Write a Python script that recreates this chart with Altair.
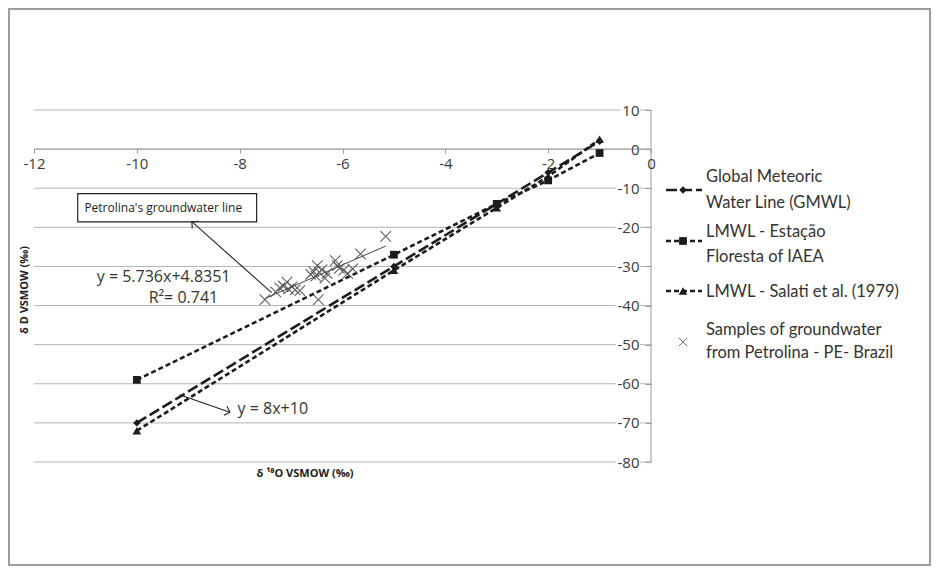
import math
import altair as alt
import pandas as pd

# ---------------- data ----------------
line_x = [-10, -5, -3, -2, -1]
gmwl_y = [-70, -30, -14, -6, 2]
floresta_y = [-59, -27, -14, -8, -1]
salati_y = [-72, -31, -15, -7, 2.5]

sample_x = [-7.51, -7.30, -7.22, -7.15, -7.08, -7.05, -6.98, -6.92, -6.83, -6.47,
            -6.62, -6.56, -6.52, -6.49, -6.45, -6.40, -6.34, -6.30, -6.14, -6.10,
            -6.06, -5.98, -5.90, -5.80, -5.65, -5.16]
sample_y = [-38.5, -36.5, -35.5, -35.0, -34.0, -35.8, -35.2, -36.0, -36.2, -38.5,
            -32.0, -31.3, -32.5, -29.8, -31.5, -30.8, -33.0, -31.8, -28.5, -29.8,
            -30.5, -31.0, -31.8, -30.6, -26.8, -22.3]

trend_x = [-7.51, -5.16]
trend_y = [-38.2, -24.8]

x_ticks = [-12, -10, -8, -6, -4, -2, 0]
y_ticks = [10, 0, -10, -20, -30, -40, -50, -60, -70, -80]

legend_labels = [["Global Meteoric", "Water Line (GMWL)"],
                 ["LMWL - Estação", "Floresta of IAEA"],
                 ["LMWL - Salati et al. (1979)"],
                 ["Samples of groundwater", "from Petrolina - PE- Brazil"]]

box_text = "Petrolina's groundwater line"
eq_text = "y = 5.736x+4.8351"
r2_text = "R²= 0.741"
gmwl_text = "y = 8x+10"
x_title = "δ ¹⁸O VSMOW (‰)"
y_title = "δ D VSMOW (‰)"

# ---------------- layout ----------------
W, H = 617, 352
PAD_L, PAD_T = 26, 102
TOTAL_W, TOTAL_H = 924, 559
X_DOM = [-12, 0]
Y_DOM = [-80, 10]
INK = "#1c1c1c"
GRID = "#b4b4b4"
NUM_FONT = "Open Sans"
LEG_FONT = "Lato"


def px_x(v):
    return (v - X_DOM[0]) / (X_DOM[1] - X_DOM[0]) * W


def px_y(v):
    return (Y_DOM[1] - v) / (Y_DOM[1] - Y_DOM[0]) * H


def data_x(p):
    return X_DOM[0] + p / W * (X_DOM[1] - X_DOM[0])


xs = alt.Scale(domain=X_DOM, nice=False, zero=False)
ys = alt.Scale(domain=Y_DOM, nice=False, zero=False)

x_axis = alt.Axis(values=x_ticks, offset=-(H - px_y(0)), domain=False, grid=False,
                  ticks=True, tickSize=4, tickColor="#9a9a9a", labelFont=NUM_FONT,
                  labelFontSize=15, labelColor="#3a3a3a", labelPadding=3,
                  labelExpr="datum.value + ''", labelFlush=False, labelOverlap=False,
                  title=None, zindex=1)
y_axis = alt.Axis(orient="left", offset=-W, values=y_ticks, domain=False, grid=False,
                  ticks=True, tickSize=6, tickColor="#9a9a9a", labelFont=NUM_FONT,
                  labelFontSize=15, labelColor="#3a3a3a", labelPadding=6,
                  labelExpr="datum.value + ''", labelOverlap=False, title=None, zindex=1)


def X(f="x"):
    return alt.X(f, type="quantitative", scale=xs, axis=x_axis)


def Y(f="y"):
    return alt.Y(f, type="quantitative", scale=ys, axis=y_axis)


one = pd.DataFrame({"k": [0]})
layers = []

# frame around the whole figure
layers.append(alt.Chart(one).mark_rect(fill=None, stroke="#9c9c9c", strokeWidth=2).encode(
    x=alt.value(9 - 8 - PAD_L), x2=alt.value(TOTAL_W - 2 - PAD_L),
    y=alt.value(9 - 8 - PAD_T), y2=alt.value(TOTAL_H - 2 - PAD_T)))

# gridlines
grid_df = pd.DataFrame({"y": y_ticks, "x": [X_DOM[0]] * len(y_ticks), "x2": [X_DOM[1]] * len(y_ticks)})
layers.append(alt.Chart(grid_df).mark_rule(color=GRID, strokeWidth=1).encode(
    x=X("x"), x2="x2", y=Y("y")))

# white backgrounds behind y labels (they interrupt the gridlines in the reference)
def label_w(s):
    return sum(4.9 if c == "-" else 8.6 for c in s)

right_px = W - 6 - 6 + 1
bg_df = pd.DataFrame({
    "y": [v - 0.7 for v in y_ticks],
    "y2": [v + 0.7 for v in y_ticks],
    "x": [data_x(right_px - label_w(str(v)) - 2) for v in y_ticks],
    "x2": [data_x(right_px) for v in y_ticks],
})
layers.append(alt.Chart(bg_df).mark_rect(fill="white").encode(
    x=X("x"), x2="x2", y=Y("y"), y2="y2"))

# axis lines
xl = pd.DataFrame({"x": [X_DOM[0]], "x2": [X_DOM[1]], "y": [0]})
layers.append(alt.Chart(xl).mark_rule(color="#9a9a9a", strokeWidth=1).encode(
    x=X("x"), x2="x2", y=Y("y")))
yl = pd.DataFrame({"x": [0], "y": [Y_DOM[1]], "y2": [Y_DOM[0]]})
layers.append(alt.Chart(yl).mark_rule(color="#9a9a9a", strokeWidth=1).encode(
    x=X("x"), y=Y("y"), y2="y2"))

# series
series = [
    (floresta_y, [5, 3], "square", 60, True),
    (salati_y, [5, 3], "triangle-up", 75, True),
    (gmwl_y, [11, 4], "diamond", 55, True),
]
for ys_vals, dash, shape, size, filled in series:
    df = pd.DataFrame({"x": line_x, "y": ys_vals})
    layers.append(alt.Chart(df).mark_line(color=INK, strokeWidth=2.6, strokeDash=dash).encode(
        x=X(), y=Y()))
    layers.append(alt.Chart(df).mark_point(shape=shape, size=size, filled=True, color=INK,
                                           opacity=1).encode(x=X(), y=Y()))

# samples + trend line
sdf = pd.DataFrame({"x": sample_x, "y": sample_y})
XSHAPE = "M-1,-1L1,1M-1,1L1,-1"
layers.append(alt.Chart(sdf).mark_point(shape=XSHAPE, size=110, filled=False, color="#5f5f5f",
                                        strokeWidth=1.1, opacity=1).encode(x=X(), y=Y()))
tdf = pd.DataFrame({"x": trend_x, "y": trend_y})
layers.append(alt.Chart(tdf).mark_line(color="#444444", strokeWidth=1).encode(x=X(), y=Y()))

# annotation: box with arrow
box = pd.DataFrame({"x": [-11.15], "x2": [-7.67], "y": [-11.4], "y2": [-18.6]})
layers.append(alt.Chart(box).mark_rect(fill="white", stroke="#222222", strokeWidth=1.2).encode(
    x=X("x"), x2="x2", y=Y("y"), y2="y2"))
bt = pd.DataFrame({"x": [-11.02], "y": [-15.0], "t": [box_text]})
layers.append(alt.Chart(bt).mark_text(align="left", baseline="middle", font=NUM_FONT,
                                      fontSize=12, color="#222222").encode(
    x=X(), y=Y(), text="t:N"))

arrows = [((-7.38, -36.7), (-8.93, -18.56)), ((-9.17, -62.8), (-8.19, -67.3))]
for (ax0, ay0), (ax1, ay1) in arrows:
    adf = pd.DataFrame({"x": [ax0], "y": [ay0], "x2": [ax1], "y2": [ay1]})
    layers.append(alt.Chart(adf).mark_rule(color="#222222", strokeWidth=1.1).encode(
        x=X("x"), y=Y("y"), x2="x2", y2="y2"))
    ang = math.degrees(math.atan2(px_y(ay1) - px_y(ay0), px_x(ax1) - px_x(ax0))) % 360
    hdf = pd.DataFrame({"x": [ax1], "y": [ay1]})
    layers.append(alt.Chart(hdf).mark_point(shape="M-1,-1L0,0L-1,1", size=90, filled=False,
                                            color="#222222", strokeWidth=1.1, opacity=1,
                                            angle=ang).encode(x=X(), y=Y()))

# equations
eqs = pd.DataFrame({"x": [-10.78, -9.77, -8.04], "y": [-32.6, -38.0, -66.4],
                    "t": [eq_text, r2_text, gmwl_text]})
layers.append(alt.Chart(eqs).mark_text(align="left", baseline="middle", font=NUM_FONT,
                                       fontSize=16, color="#333333").encode(
    x=X(), y=Y(), text="t:N"))

# axis titles
layers.append(alt.Chart(one).mark_text(text=y_title, angle=270, font=NUM_FONT, fontSize=11,
                                       fontWeight="bold", color="#222222", align="center",
                                       baseline="middle").encode(
    x=alt.value(25 - 34), y=alt.value(290 - 110)))
layers.append(alt.Chart(one).mark_text(text=x_title, font=NUM_FONT, fontSize=11,
                                       fontWeight="bold", color="#222222", align="center",
                                       baseline="middle").encode(
    x=alt.value(305 - 34), y=alt.value(474 - 110)))

# legend
leg_x_line0, leg_x_line1, leg_x_sym, leg_x_text = 632, 668, 649, 672
leg_sym_y = [80, 131, 181, 232]
leg_text_y = [[67, 93], [122, 147], [182], [220, 243]]
leg_styles = [([11, 4], "diamond", 55), ([5, 3], "square", 60), ([5, 3], "triangle-up", 75)]
for i, (dash, shape, size) in enumerate(leg_styles):
    layers.append(alt.Chart(one).mark_rule(color=INK, strokeWidth=2.4, strokeDash=dash).encode(
        x=alt.value(leg_x_line0), x2=alt.value(leg_x_line1), y=alt.value(leg_sym_y[i])))
    layers.append(alt.Chart(one).mark_point(shape=shape, size=size, filled=True, color=INK,
                                            opacity=1).encode(
        x=alt.value(leg_x_sym), y=alt.value(leg_sym_y[i])))
layers.append(alt.Chart(one).mark_point(shape=XSHAPE, size=70, filled=False, color="#6e6e6e",
                                        strokeWidth=1, opacity=1).encode(
    x=alt.value(leg_x_sym), y=alt.value(leg_sym_y[3])))
for lines, ys_ in zip(legend_labels, leg_text_y):
    for txt, yy in zip(lines, ys_):
        layers.append(alt.Chart(one).mark_text(text=txt, align="left", baseline="middle",
                                               font=LEG_FONT, fontSize=16.5,
                                               color="#333333").encode(
            x=alt.value(leg_x_text), y=alt.value(yy)))

chart = alt.layer(*layers).properties(
    width=W, height=H,
    padding={"left": PAD_L, "top": PAD_T, "right": TOTAL_W - PAD_L - W,
             "bottom": TOTAL_H - PAD_T - H},
    autosize=alt.AutoSizeParams(type="none"),
    background="white",
).configure_view(stroke=None)

chart.save("out.html", embed_options={"renderer": "svg", "actions": False})
